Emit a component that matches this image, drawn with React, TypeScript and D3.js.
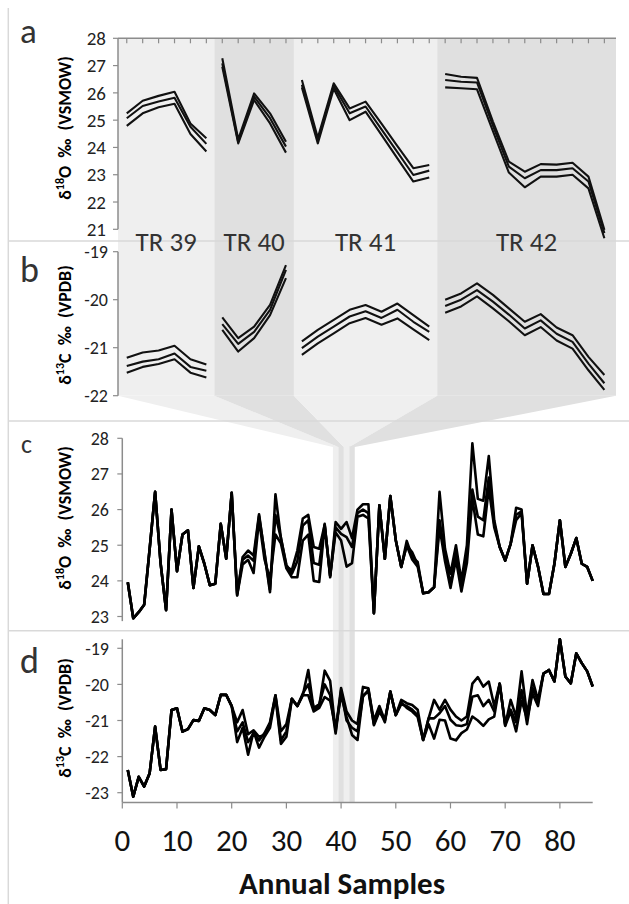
import * as d3 from "d3";

// ---- tree rings shown in the upper panels ----
const rings = ["TR 39", "TR 40", "TR 41", "TR 42"];
const ringSize = [6, 5, 9, 11];
const ringSample = [39, 40, 41, 42];

// panel a: d18O intra-ring, three replicate lines
const o18RingA = [
  25.25, 25.71, 25.89, 26.04, 24.88, 24.34,
  27.27, 24.3, 25.98, 25.25, 24.21,
  26.47, 24.35, 26.35, 25.43, 25.68, 24.87, 24.05, 23.24, 23.36,
  26.69, 26.59, 26.55, 24.95, 23.48, 23.11, 23.39, 23.37, 23.44, 22.93, 20.98
];
const o18RingB = [
  25.07, 25.52, 25.68, 25.82, 24.76, 24.13,
  27.08, 24.2, 25.86, 25.07, 24.03,
  26.3, 24.25, 26.25, 25.25, 25.5, 24.66, 23.83, 22.99, 23.15,
  26.47, 26.41, 26.38, 24.8, 23.3, 22.87, 23.17, 23.17, 23.24, 22.75, 20.86
];
const o18RingC = [
  24.79, 25.25, 25.47, 25.6, 24.49, 23.85,
  26.96, 24.15, 25.74, 24.88, 23.81,
  26.2, 24.15, 26.15, 25.0, 25.31, 24.46, 23.6, 22.75, 22.9,
  26.2, 26.17, 26.13, 24.6, 23.08, 22.54, 22.93, 22.93, 23.0, 22.5, 20.67
];

// panel b: d13C intra-ring
const c13RingA = [
  -21.21, -21.1, -21.06, -20.96, -21.24, -21.35,
  -20.37, -20.8, -20.56, -20.11, -19.28,
  -20.87, -20.63, -20.42, -20.21, -20.11, -20.25, -20.08, -20.32, -20.56,
  -20.0, -19.87, -19.66, -19.9, -20.18, -20.46, -20.3, -20.58, -20.74, -21.19, -21.57
];
const c13RingB = [
  -21.38, -21.29, -21.24, -21.12, -21.4, -21.48,
  -20.51, -20.92, -20.67, -20.21, -19.38,
  -21.01, -20.77, -20.56, -20.35, -20.24, -20.38, -20.21, -20.46, -20.67,
  -20.13, -20.0, -19.8, -20.04, -20.31, -20.6, -20.43, -20.71, -20.88, -21.33, -21.74
];
const c13RingC = [
  -21.52, -21.4, -21.34, -21.24, -21.52, -21.62,
  -20.63, -21.08, -20.8, -20.32, -19.55,
  -21.15, -20.91, -20.7, -20.49, -20.38, -20.52, -20.39, -20.62, -20.84,
  -20.27, -20.14, -19.93, -20.18, -20.45, -20.74, -20.57, -20.85, -21.02, -21.47, -21.88
];

// panel c: annual d18O, samples 1..86
const o18A = [
  23.96, 22.95, 23.12, 23.33, 24.9, 26.5, 24.5, 23.18, 26.0, 24.27,
  25.3, 25.42, 23.8, 24.97, 24.48, 23.88, 23.92, 25.6, 24.62, 26.47,
  23.59, 24.67, 24.85, 24.71, 25.87, 24.76, 23.68, 26.43, 25.2, 24.4,
  24.3, 24.85, 25.75, 25.85, 24.95, 24.9, 25.57, 24.14, 25.65, 25.46,
  25.65, 25.2, 26.0, 26.15, 26.15, 23.09, 26.12, 24.62, 26.38, 25.14,
  24.39, 25.12, 24.67, 24.53, 23.65, 23.68, 23.82, 26.5, 24.9, 24.2,
  25.0, 24.0, 25.0, 27.86, 26.3, 26.25, 27.5, 25.7, 24.95, 24.57,
  25.04, 26.05, 26.0, 23.92, 25.0, 24.4, 23.63, 23.63, 24.48, 25.7,
  24.39, 24.76, 25.2, 24.48, 24.39, 24.0
];
const o18B = [
  23.96, 22.95, 23.12, 23.33, 24.9, 26.5, 24.5, 23.18, 26.0, 24.27,
  25.3, 25.42, 23.8, 24.97, 24.48, 23.88, 23.92, 25.6, 24.62, 26.47,
  23.65, 24.59, 24.71, 24.56, 25.82, 24.8, 23.75, 25.85, 25.2, 24.45,
  24.2, 24.55, 25.55, 25.7, 24.5, 24.45, 25.6, 24.1, 25.5, 25.32,
  25.23, 24.95, 25.9, 26.0, 25.9, 23.09, 26.12, 24.62, 26.38, 25.14,
  24.39, 25.0, 24.8, 24.45, 23.65, 23.68, 23.82, 25.7, 24.7, 23.9,
  24.8, 23.8, 24.8, 26.56, 25.8, 25.7, 26.9, 25.6, 24.95, 24.57,
  25.04, 25.85, 25.95, 23.92, 25.0, 24.4, 23.63, 23.63, 24.48, 25.7,
  24.39, 24.76, 25.2, 24.48, 24.39, 24.0
];
const o18C = [
  23.96, 22.95, 23.12, 23.33, 24.9, 26.5, 24.5, 23.18, 26.0, 24.27,
  25.3, 25.42, 23.8, 24.97, 24.48, 23.88, 23.92, 25.6, 24.62, 26.47,
  23.6, 24.46, 24.59, 24.22, 25.72, 24.6, 24.05, 25.3, 25.05, 24.35,
  24.1, 24.1, 25.13, 25.3, 24.0, 23.97, 25.55, 24.15, 25.36, 25.13,
  24.4, 24.5, 25.8, 25.85, 25.75, 23.09, 26.12, 24.62, 26.38, 25.14,
  24.39, 25.0, 24.6, 24.4, 23.65, 23.68, 23.82, 25.5, 24.55, 23.8,
  24.6, 23.7, 24.5, 26.3, 25.3, 25.25, 26.6, 25.5, 24.95, 24.57,
  25.04, 25.7, 25.9, 23.92, 25.0, 24.4, 23.63, 23.63, 24.48, 25.7,
  24.39, 24.76, 25.2, 24.48, 24.39, 24.0
];

// panel d: annual d13C, samples 1..86
const c13A = [
  -22.37, -23.11, -22.56, -22.83, -22.46, -21.17, -22.37, -22.35, -20.71, -20.66,
  -21.31, -21.24, -20.99, -21.01, -20.66, -20.71, -20.85, -20.29, -20.29, -20.6,
  -21.05, -20.71, -21.38, -21.27, -21.45, -21.4, -21.1, -20.3, -21.55, -21.3,
  -20.4, -20.6, -20.3, -19.6, -20.7, -20.6, -19.62, -19.9, -21.3, -20.1,
  -20.75, -21.0, -21.1, -20.07, -20.11, -21.13, -20.76, -20.99, -20.2, -20.85,
  -20.43, -20.52, -20.57, -20.7, -21.54, -20.94, -20.43, -20.7, -20.43, -20.7,
  -20.89, -21.0, -20.89, -19.98, -19.8, -20.06, -19.92, -20.6, -19.98, -21.13,
  -20.43, -20.9, -19.64, -20.85, -19.88, -20.43, -19.7, -19.6, -19.92, -18.75,
  -19.78, -19.97, -19.14, -19.41, -19.64, -20.06
];
const c13B = [
  -22.37, -23.11, -22.56, -22.83, -22.46, -21.17, -22.37, -22.35, -20.71, -20.66,
  -21.31, -21.24, -20.99, -21.01, -20.66, -20.71, -20.85, -20.29, -20.29, -20.6,
  -21.3, -21.05, -21.6, -21.35, -21.55, -21.35, -21.05, -20.3, -21.3, -21.1,
  -20.4, -20.6, -20.25, -20.0, -20.65, -20.55, -20.0, -20.3, -21.36, -20.16,
  -21.0, -21.2, -21.3, -20.34, -20.15, -21.0, -20.6, -21.0, -20.2, -20.85,
  -20.55, -20.6, -20.7, -20.85, -21.54, -20.94, -20.94, -20.8, -20.6, -20.98,
  -21.13, -21.15, -21.1, -20.34, -20.3, -20.6, -20.43, -20.75, -19.98, -21.1,
  -20.7, -21.05, -20.16, -21.1, -20.1, -20.45, -19.7, -19.6, -19.92, -18.75,
  -19.78, -19.97, -19.14, -19.41, -19.64, -20.06
];
const c13C = [
  -22.37, -23.11, -22.56, -22.83, -22.46, -21.17, -22.37, -22.35, -20.71, -20.66,
  -21.31, -21.24, -20.99, -21.01, -20.66, -20.71, -20.85, -20.29, -20.29, -20.6,
  -21.6, -21.2, -21.95, -21.3, -21.75, -21.45, -21.2, -20.35, -21.65, -21.45,
  -20.4, -20.6, -20.3, -20.3, -20.75, -20.65, -20.35, -20.45, -21.2, -20.3,
  -20.9, -21.4, -21.54, -20.3, -20.2, -21.1, -20.7, -21.05, -20.2, -20.85,
  -20.5, -20.65, -20.75, -20.9, -21.54, -21.1, -21.5, -20.98, -21.0, -21.5,
  -21.55, -21.35, -21.25, -20.89, -21.0, -21.15, -20.97, -20.89, -19.98, -21.15,
  -20.75, -21.3, -20.45, -20.95, -20.25, -20.6, -19.7, -19.6, -19.92, -18.75,
  -19.78, -19.97, -19.14, -19.41, -19.64, -20.06
];

const o18Ticks = [21, 22, 23, 24, 25, 26, 27, 28];
const c13TicksB = [-22, -21, -20, -19];
const o18TicksC = [23, 24, 25, 26, 27, 28];
const c13TicksD = [-23, -22, -21, -20, -19];
const sampleTicks = [0, 10, 20, 30, 40, 50, 60, 70, 80];

const FONT = "Carlito, Calibri, Lato, 'Open Sans', sans-serif";
const AXIS = "#8c8c8c";
const SEP = "#d9d9d9";
const BAND = ["#efefef", "#e0e0e0", "#efefef", "#e0e0e0"];
const NB = "\u00a0";

export default function App() {
  const W = 629, H = 904;

  const xR = d3.scaleLinear().domain([0.45, 31.73]).range([118, 616]);
  const yA = d3.scaleLinear().domain([21, 28]).range([229.3, 38.3]);
  const yB = d3.scaleLinear().domain([-22, -19]).range([395.7, 251.7]);
  const xS = d3.scaleLinear().domain([0, 86]).range([122.3, 592.7]);
  const yC = d3.scaleLinear().domain([23, 28]).range([616.5, 438.3]);
  const yD = d3.scaleLinear().domain([-23, -19]).range([792.7, 648.3]);

  const dMin = -23.27;
  const funnelBottom = 447;

  // ring boundaries in index units
  const starts: number[] = [];
  let acc = 0;
  ringSize.forEach(n => { starts.push(acc); acc += n; });
  const edges = ringSize.map((n, r) => [
    r === 0 ? xR.domain()[0] : starts[r] + 0.5,
    r === ringSize.length - 1 ? xR.domain()[1] : starts[r] + n + 0.5
  ]);

  const ringPaths = (series: number[][], y: d3.ScaleLinear<number, number>) => {
    const out: string[] = [];
    ringSize.forEach((n, r) => {
      const s = starts[r];
      series.forEach(vals => {
        const seg = vals.slice(s, s + n);
        const p = d3.line<number>()
          .x((_, j) => xR(s + j + 1))
          .y(d => y(d))(seg);
        if (p) out.push(p);
      });
    });
    return out;
  };

  const annual = (vals: number[], y: d3.ScaleLinear<number, number>) =>
    d3.line<number>().x((_, i) => xS(i + 1)).y(d => y(d))(vals) || "";

  const aPaths = ringPaths([o18RingA, o18RingB, o18RingC], yA);
  const bPaths = ringPaths([c13RingA, c13RingB, c13RingC], yB);

  const bandTop = yA(28);
  const bandBot = yB(-22);
  const stripBot = yD(dMin);

  const yTitle = (x: number, y: number, iso: string, el: string, rest: string) => (
    <text transform={`translate(${x},${y}) rotate(-90)`} textAnchor="middle"
      fontFamily={FONT} fontWeight="bold" fontSize={18} fill="#000">
      <tspan>δ</tspan>
      <tspan dy={-7} fontSize={12}>{iso}</tspan>
      <tspan dy={7}>{`${el}${NB}${NB}‰${NB}${NB}${rest}`}</tspan>
    </text>
  );

  return (
    <svg width={W} height={H} viewBox={`0 0 ${W} ${H}`}
      style={{ position: "absolute", left: 0, top: 0, background: "#fff" }}>
      {/* shaded ring bands, funnels and strips */}
      {rings.map((_, r) => {
        const [e0, e1] = edges[r];
        const s0 = xS(ringSample[r] - 0.5), s1 = xS(ringSample[r] + 0.5);
        return (
          <g key={r} fill={BAND[r]}>
            <rect x={xR(e0)} y={bandTop} width={xR(e1) - xR(e0)} height={bandBot - bandTop} />
            <polygon points={`${xR(e0)},${bandBot} ${xR(e1)},${bandBot} ${s1},${funnelBottom} ${s0},${funnelBottom}`} />
            <rect x={s0} y={funnelBottom - 0.5} width={s1 - s0} height={stripBot - funnelBottom + 0.5} />
          </g>
        );
      })}

      {/* frame and separators */}
      <line x1={8.3} x2={8.3} y1={8} y2={H} stroke={SEP} strokeWidth={1.5} />
      {[241, 421, 630.7].map(y => (
        <line key={y} x1={8.3} x2={W} y1={y} y2={y} stroke={SEP} strokeWidth={1.5} />
      ))}

      {/* panel a axes */}
      <line x1={xR(0.45)} x2={xR(31.73)} y1={bandTop} y2={bandTop} stroke={AXIS} strokeWidth={1.5} />
      {d3.range(1, 32).map(i => (
        <line key={i} x1={xR(i)} x2={xR(i)} y1={bandTop} y2={bandTop + 5} stroke={AXIS} strokeWidth={1.2} />
      ))}
      <line x1={118} x2={118} y1={yA(28)} y2={yA(21)} stroke={AXIS} strokeWidth={1.5} />
      {o18Ticks.map(t => (
        <g key={t}>
          <line x1={113} x2={118} y1={yA(t)} y2={yA(t)} stroke={AXIS} strokeWidth={1.2} />
          <text x={106} y={yA(t)} dy="0.35em" textAnchor="end" fontFamily={FONT} fontSize={19} fill="#222">{t}</text>
        </g>
      ))}

      {/* panel b axes */}
      <line x1={118} x2={118} y1={yB(-19)} y2={yB(-22)} stroke={AXIS} strokeWidth={1.5} />
      {c13TicksB.map(t => (
        <g key={t}>
          <line x1={113} x2={118} y1={yB(t)} y2={yB(t)} stroke={AXIS} strokeWidth={1.2} />
          <text x={108} y={yB(t)} dy="0.35em" textAnchor="end" fontFamily={FONT} fontSize={18} fill="#222">{t}</text>
        </g>
      ))}

      {/* panel c axes */}
      <line x1={xS(0)} x2={xS(0)} y1={yC(28)} y2={yC(22.87)} stroke={AXIS} strokeWidth={1.5} />
      {o18TicksC.map(t => (
        <g key={t}>
          <line x1={xS(0) - 5} x2={xS(0)} y1={yC(t)} y2={yC(t)} stroke={AXIS} strokeWidth={1.2} />
          <text x={109} y={yC(t)} dy="0.35em" textAnchor="end" fontFamily={FONT} fontSize={18} fill="#222">{t}</text>
        </g>
      ))}

      {/* panel d axes */}
      <line x1={xS(0)} x2={xS(0)} y1={yD(-18.75)} y2={stripBot} stroke={AXIS} strokeWidth={1.5} />
      {c13TicksD.map(t => (
        <g key={t}>
          <line x1={xS(0) - 5} x2={xS(0)} y1={yD(t)} y2={yD(t)} stroke={AXIS} strokeWidth={1.2} />
          <text x={109} y={yD(t)} dy="0.35em" textAnchor="end" fontFamily={FONT} fontSize={18} fill="#222">{t}</text>
        </g>
      ))}
      <line x1={xS(0)} x2={xS(86)} y1={stripBot} y2={stripBot} stroke={AXIS} strokeWidth={1.5} />
      {sampleTicks.map(t => (
        <g key={t}>
          <line x1={xS(t)} x2={xS(t)} y1={stripBot} y2={stripBot + 6} stroke={AXIS} strokeWidth={1.2} />
          <text x={xS(t)} y={851} textAnchor="middle" fontFamily={FONT} fontSize={31} fill="#111">{t}</text>
        </g>
      ))}

      {/* data lines */}
      <g fill="none" stroke="#111" strokeWidth={2.1} strokeLinejoin="round">
        {aPaths.map((p, i) => <path key={"a" + i} d={p} />)}
        {bPaths.map((p, i) => <path key={"b" + i} d={p} />)}
      </g>
      <g fill="none" stroke="#000" strokeWidth={2.6} strokeLinejoin="round">
        {[o18A, o18B, o18C].map((v, i) => <path key={"c" + i} d={annual(v, yC)} />)}
        {[c13A, c13B, c13C].map((v, i) => <path key={"d" + i} d={annual(v, yD)} />)}
      </g>

      {/* ring labels */}
      {rings.map((t, r) => (
        <text key={t} x={xR((edges[r][0] + edges[r][1]) / 2)} y={250.7} textAnchor="middle"
          fontFamily={FONT} fontSize={27} fill="#333">{t}</text>
      ))}

      {/* panel letters */}
      <text x={20} y={42.7} fontFamily={FONT} fontSize={35} fill="#333">a</text>
      <text x={20} y={281.7} fontFamily={FONT} fontSize={36} fill="#333">b</text>
      <text x={21} y={453.3} fontFamily={FONT} fontSize={26} fill="#333">c</text>
      <text x={20} y={673.3} fontFamily={FONT} fontSize={36} fill="#333">d</text>

      {/* axis titles */}
      {yTitle(71, 128, "18", "O", "(VSMOW)")}
      {yTitle(71, 325, "13", "C", "(VPDB)")}
      {yTitle(71, 518, "18", "O", "(VSMOW)")}
      {yTitle(71, 718, "13", "C", "(VPDB)")}
      <text x={342} y={894} textAnchor="middle" fontFamily={FONT} fontWeight="bold" fontSize={31} fill="#111">
        Annual Samples
      </text>
    </svg>
  );
}
